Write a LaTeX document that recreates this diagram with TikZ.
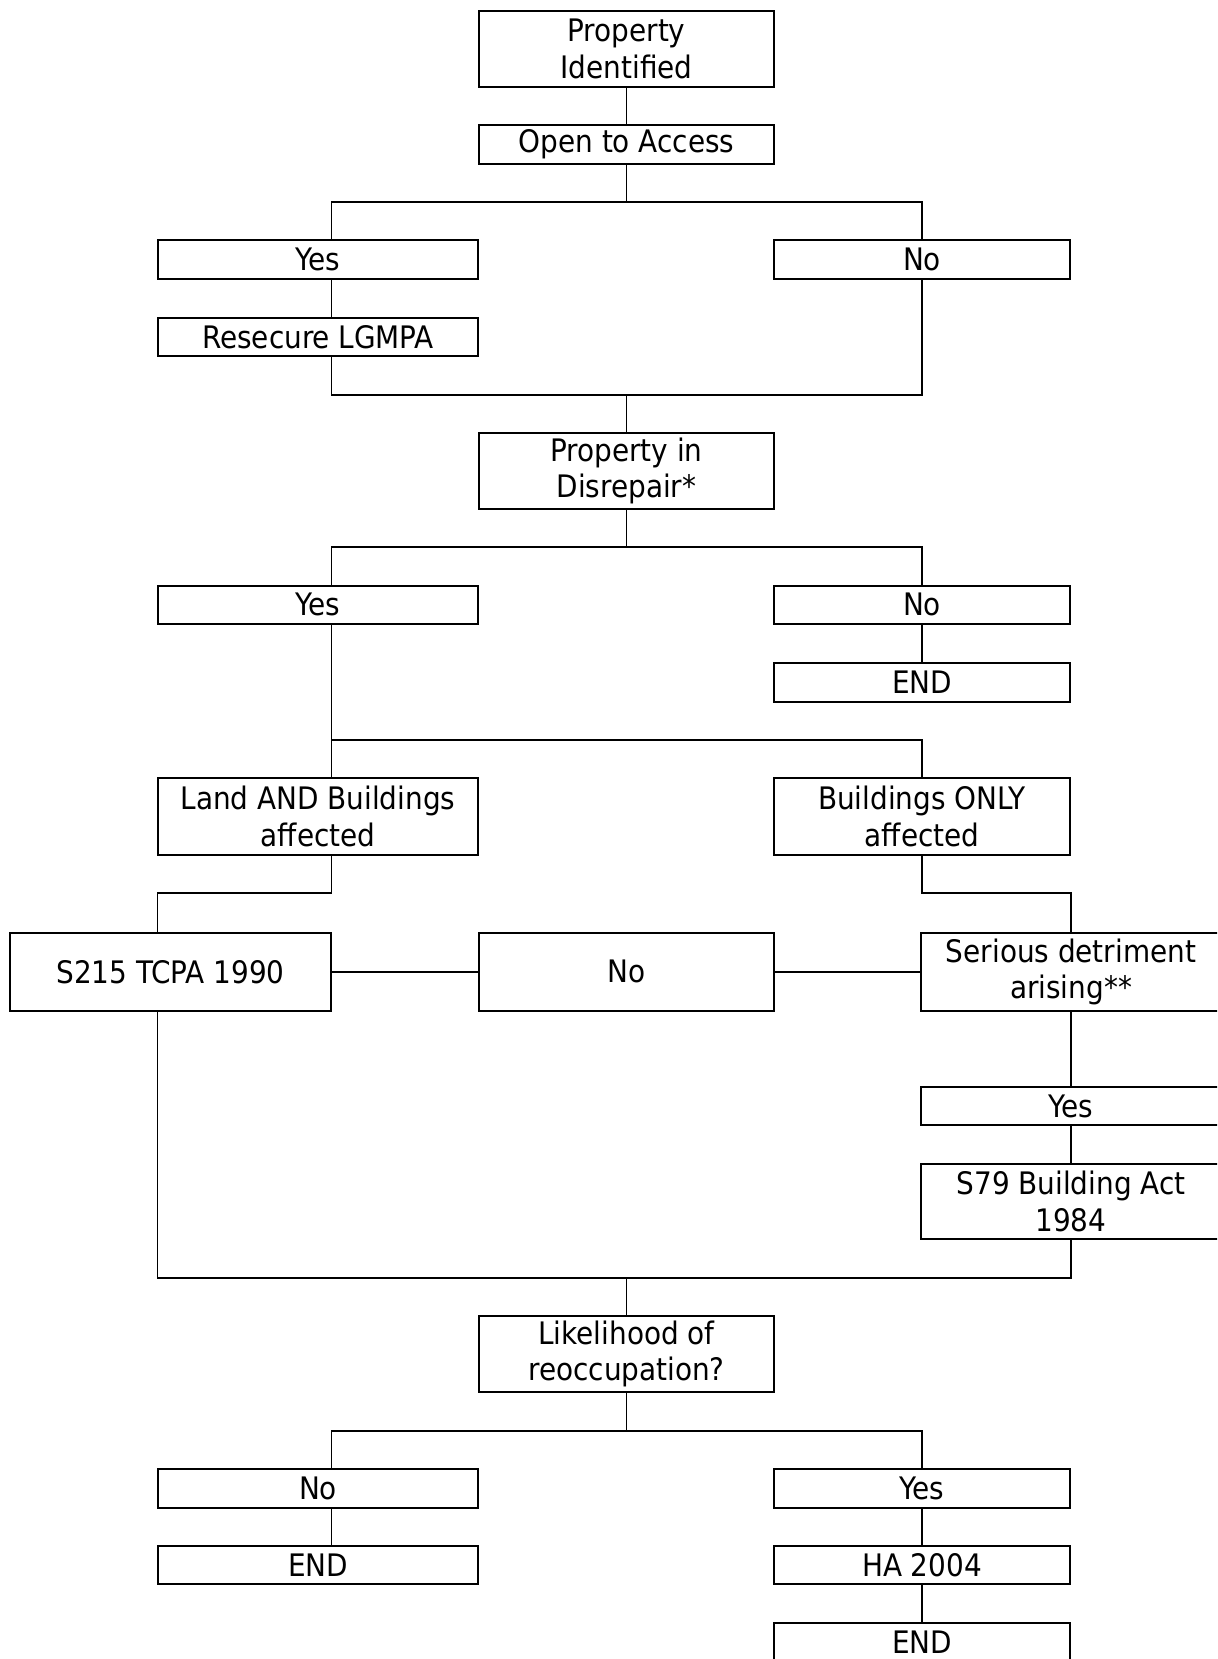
\documentclass[tikz,border=0pt]{standalone}
\usepackage{fontspec}
\setmainfont{DejaVu Sans Condensed}
\usetikzlibrary{calc}

\begin{document}
\begin{tikzpicture}[x=0.5pt, y=-0.5pt,
    box/.style={draw, line width=1pt, inner sep=0pt, align=center,
        font=\fontsize{15.5}{18.3}\selectfont},
    one/.style={box, minimum height=19.25pt},
    two/.style={box, minimum height=38.25pt},
    link/.style={line width=0.8pt}]

        % Page size and white background
        \fill[white] (0,0) rectangle (1217,1659);
        \clip (0,0) rectangle (1217,1659);

        % Column widths (1px = 0.5pt)
        \def\wc{147.5pt}
        \def\wl{160pt}
        \def\wr{148pt}
        \def\wx{150pt}

        % Trunk and junction points
        \coordinate (lx) at (331.4,0);
        \coordinate (s1) at (626.5,201.7);
        \coordinate (j1) at (626.5,395);
        \coordinate (s2) at (626.5,546.7);
        \coordinate (s3) at (331.4,740);
        \coordinate (e1) at (157.6,892.7);
        \coordinate (e2) at (1071,892.7);
        \coordinate (j2) at (626.5,1277.7);
        \coordinate (s4) at (626.5,1430.7);

        % Boxes
        \node[two, minimum width=\wc] (pid) at (626.5,48.9) {Property\\Identified};
        \node[one, minimum width=\wc] (open) at (626.5,144.5) {Open to Access};
        \node[one, minimum width=\wl] (yesA) at (318,259.7) {Yes};
        \node[one, minimum width=\wr] (noA) at (922,259.7) {No};
        \node[one, minimum width=\wl] (resec) at (318,336.9) {Resecure LGMPA};
        \node[two, minimum width=\wc] (disrep) at (626.5,470.9) {Property in\\Disrepair*};
        \node[one, minimum width=\wl] (yesB) at (318,604.9) {Yes};
        \node[one, minimum width=\wr] (noB) at (922,604.9) {No};
        \node[one, minimum width=\wr] (endB) at (922,682.4) {END};
        \node[two, minimum width=\wl] (land) at (318,816.4) {Land AND Buildings\\affected};
        \node[two, minimum width=\wr] (bonly) at (922,816.4) {Buildings ONLY\\affected};
        \node[two, minimum width=160.5pt, minimum height=39pt] (s215) at (170.5,971.9) {S215 TCPA 1990};
        \node[two, minimum width=\wc, minimum height=39pt] (noC) at (626.5,971.9) {No};
        \node[two, minimum width=\wx, minimum height=39pt] (serious) at (1071,971.9) {Serious detriment\\arising**};
        \node[one, minimum width=\wx] (yesD) at (1071,1106) {Yes};
        \node[two, minimum width=\wx, minimum height=37.5pt] (s79) at (1071,1201.2) {S79 Building Act\\1984};
        \node[two, minimum width=\wc] (likely) at (626.5,1353.9) {Likelihood of\\reoccupation?};
        \node[one, minimum width=\wl] (noE) at (318,1488.4) {No};
        \node[one, minimum width=\wr] (yesE) at (922,1488.4) {Yes};
        \node[one, minimum width=\wl] (endE) at (318,1565.2) {END};
        \node[one, minimum width=\wr] (ha) at (922,1565.2) {HA 2004};
        \node[one, minimum width=\wr] (endF) at (922,1642.2) {END};

        % Connectors
        \draw[link] (pid) -- (open);
        \draw[link] (open) -- (s1);
        \draw[link] (yesA.north -| lx) |- (s1) -| (noA.north);
        \draw[link] (yesA.south -| lx) -- (resec.north -| lx);
        \draw[link] (resec.south -| lx) |- (j1) -| (noA.south);
        \draw[link] (j1) -- (disrep);
        \draw[link] (disrep) -- (s2);
        \draw[link] (yesB.north -| lx) |- (s2) -| (noB.north);
        \draw[link] (noB) -- (endB);
        \draw[link] (yesB.south -| s3) -- (land.north -| s3);
        \draw[link] (s3) -| (bonly.north);
        \draw[link] (land.south -| s3) |- (e1) -- (s215.north -| e1);
        \draw[link] (bonly.south) |- (e2) -- (serious.north);
        \draw[link] (s215) -- (noC);
        \draw[link] (noC) -- (serious);
        \draw[link] (serious) -- (yesD);
        \draw[link] (yesD) -- (s79);
        \draw[link] (s215.south -| e1) |- (j2) -| (s79.south);
        \draw[link] (j2) -- (likely);
        \draw[link] (likely) -- (s4);
        \draw[link] (noE.north -| lx) |- (s4) -| (yesE.north);
        \draw[link] (noE.south -| lx) -- (endE.north -| lx);
        \draw[link] (yesE) -- (ha);
        \draw[link] (ha) -- (endF);

\end{tikzpicture}
\end{document}
